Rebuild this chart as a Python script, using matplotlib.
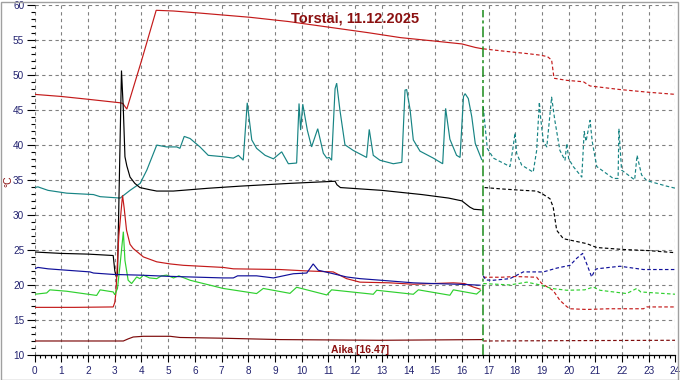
import matplotlib
matplotlib.use("Agg")
import matplotlib.pyplot as plt
from matplotlib.ticker import MultipleLocator
from matplotlib.patches import Rectangle

plt.rcParams['font.family'] = ['Liberation Sans', 'DejaVu Sans']

# ---------------- data ----------------
now_h = 16.78
title_text = "Torstai, 11.12.2025"
time_text = "Aika [16.47]"
y_label = "°C"

# top red (solid today / dashed forecast)
red_top_t = [0, 1, 2, 3.2, 3.3, 3.45, 4.0, 4.55, 5.2, 6.2, 8.07, 9.5, 11.0, 12.5, 13.7, 15.0, 16.0, 16.5, 16.78]
red_top_v = [47.2, 46.9, 46.5, 46.0, 45.9, 45.1, 52.0, 59.2, 59.1, 58.8, 58.2, 57.6, 56.8, 56.0, 55.3, 54.8, 54.4, 53.9, 53.7]
red_top_dt = [16.8, 17.5, 18.5, 18.93, 19.2, 19.36, 19.45, 19.93, 20.55, 20.8, 21.9, 23.0, 24.0]
red_top_dv = [53.7, 53.4, 53.0, 52.8, 52.6, 52.1, 49.5, 49.2, 49.0, 48.4, 47.9, 47.5, 47.2]

# black
black_t = [0, 1.0, 2.0, 2.94, 3.0, 3.06, 3.1, 3.25, 3.32, 3.38, 3.45, 3.57, 3.75, 3.94, 4.3, 4.57,
           5.19, 6.5, 7.69, 9.57, 11.25, 11.32, 11.45, 13.0, 14.5, 15.5, 16.0, 16.3, 16.45, 16.78]
black_v = [24.7, 24.5, 24.4, 24.2, 22.0, 21.1, 21.5, 50.6, 45.0, 38.3, 37.0, 35.4, 34.5, 33.9, 33.6, 33.4,
           33.4, 33.8, 34.1, 34.5, 34.8, 34.3, 33.9, 33.5, 32.9, 32.4, 32.0, 31.1, 30.8, 30.7]
black_dt = [16.85, 17.5, 18.3, 18.8, 18.99, 19.3, 19.42, 19.55, 19.8, 20.67, 21.05, 22.05, 23.0, 24.0]
black_dv = [33.9, 33.7, 33.5, 33.4, 33.06, 32.3, 31.1, 27.8, 26.6, 25.9, 25.34, 25.06, 24.9, 24.6]

# teal
teal_t = [0, 0.12, 0.5, 1.2, 2.2, 2.45, 3.2, 3.57, 3.95, 4.2, 4.57, 4.94, 5.32, 5.44, 5.6, 5.82, 6.19,
          6.5, 7.06, 7.44, 7.63, 7.81, 7.96, 8.13, 8.31, 8.63, 8.94, 9.25, 9.5, 9.81, 9.9, 9.96,
          10.04, 10.21, 10.37, 10.6, 10.81, 10.94, 11.03, 11.12, 11.25, 11.31, 11.43, 11.62, 11.93,
          12.43, 12.53, 12.68, 12.93, 13.43, 13.75, 13.87, 13.93, 14.06, 14.18, 14.43, 14.93, 15.28,
          15.39, 15.55, 15.8, 15.93, 16.06, 16.12, 16.24, 16.37, 16.5, 16.74]
teal_v = [33.9, 34.0, 33.5, 33.1, 32.9, 32.6, 32.4, 33.5, 34.5, 36.4, 39.96, 39.7, 39.7, 39.5, 41.2, 40.9, 39.7,
          38.5, 38.3, 38.1, 38.5, 37.8, 46.0, 40.7, 39.5, 38.5, 38.0, 39.0, 37.3, 37.4, 45.9, 42.1,
          45.8, 42.1, 39.7, 42.3, 38.8, 38.1, 38.2, 37.8, 48.0, 48.8, 45.0, 40.0, 39.2,
          38.2, 42.2, 38.5, 37.8, 37.3, 37.5, 47.8, 47.9, 45.0, 40.7, 39.1, 38.1, 37.3,
          45.2, 40.8, 38.5, 38.2, 46.9, 47.3, 46.6, 44.0, 40.2, 37.9]
teal_dt = [16.8, 16.95, 17.18, 17.8, 17.9, 17.99, 18.05, 18.24, 18.67, 18.8, 18.9, 18.95, 19.05, 19.18,
           19.36, 19.48, 19.67, 19.86, 19.93, 20.0, 20.17, 20.49, 20.58, 20.65, 20.8, 20.88, 21.05,
           21.67, 21.85, 21.88, 21.98, 22.47, 22.56, 22.73, 22.92, 23.67, 24.0]
teal_dv = [45.4, 39.5, 38.1, 36.9, 39.2, 41.7, 38.8, 37.1, 36.1, 39.2, 46.1, 43.8, 40.5, 39.7,
           46.8, 43.5, 39.2, 37.8, 40.2, 38.0, 36.9, 35.4, 41.9, 40.5, 43.5, 40.5, 36.9,
           35.2, 35.2, 42.3, 36.4, 35.0, 38.5, 35.7, 34.9, 34.1, 33.8]

# lower red
red_low_t = [0, 1.5, 2.94, 3.0, 3.04, 3.15, 3.29, 3.35, 3.44, 3.57, 3.69, 4.07, 4.57, 5.07, 5.57, 7.06,
             7.44, 9.19, 10.19, 11.18, 11.68, 12.18, 13.3, 14.18, 14.93, 15.68, 16.1, 16.43, 16.68]
red_low_v = [16.8, 16.8, 16.86, 17.5, 18.8, 27.0, 32.8, 31.0, 27.8, 25.8, 25.2, 24.0, 23.3, 23.0, 22.8, 22.5,
             22.3, 22.2, 22.0, 21.86, 20.9, 20.4, 20.3, 20.1, 20.2, 20.3, 20.2, 19.7, 19.4]
red_low_dt = [16.8, 17.5, 18.0, 18.8, 18.99, 19.42, 19.67, 19.93, 20.05, 20.67, 21.5, 22.8, 22.92, 24.0]
red_low_dv = [21.1, 21.1, 21.2, 21.1, 20.2, 19.2, 17.8, 16.9, 16.6, 16.5, 16.6, 16.6, 16.86, 16.86]

# blue
blue_t = [0, 0.12, 0.5, 1.2, 2.07, 2.2, 2.94, 3.94, 4.94, 5.82, 7.06, 7.44, 7.6, 8.31, 8.94, 9.56, 9.69,
          10.19, 10.43, 10.62, 11.18, 11.68, 12.18, 13.3, 14.18, 14.93, 16.18, 16.68]
blue_v = [22.3, 22.5, 22.3, 22.1, 21.86, 21.7, 21.5, 21.4, 21.24, 21.14, 21.0, 21.0, 21.3, 21.3, 21.0, 21.5, 21.6,
          21.7, 23.0, 22.1, 21.6, 21.14, 20.9, 20.57, 20.3, 20.2, 20.06, 19.96]
blue_dt = [16.8, 16.9, 17.18, 17.8, 18.3, 19.05, 19.55, 20.05, 20.3, 20.52, 20.67, 20.86, 20.98, 21.05,
           21.92, 22.8, 24.0]
blue_dv = [21.3, 20.7, 20.67, 20.9, 21.86, 21.86, 22.4, 22.8, 23.8, 24.5, 23.06, 21.14, 22.1, 22.3,
           22.67, 22.2, 22.2]

# green
green_t = [0, 0.45, 0.57, 1.2, 2.32, 2.45, 2.94, 3.0, 3.1, 3.2, 3.32, 3.38, 3.5, 3.63, 3.82, 3.94, 4.07,
           4.3, 4.57, 4.75, 4.94, 5.2, 5.4, 5.82, 7.06, 8.31, 8.56, 9.56, 9.81, 10.94, 11.12, 12.68,
           12.81, 14.18, 14.37, 15.55, 15.68, 16.55, 16.7]
green_v = [18.67, 18.86, 19.3, 19.1, 18.5, 19.3, 19.0, 18.6, 19.5, 23.0, 27.6, 23.5, 20.67, 20.2, 21.14, 20.9, 21.4,
           21.0, 20.9, 21.3, 21.4, 21.0, 21.3, 20.67, 19.5, 18.77, 19.5, 18.8, 19.67, 18.57, 19.3, 18.67,
           19.24, 18.67, 19.3, 18.53, 19.3, 18.7, 19.2]
green_dt = [16.8, 17.8, 18.43, 18.93, 19.36, 19.93, 20.6, 20.92, 21.17, 22.17, 22.55, 22.7, 24.0]
green_dv = [20.2, 20.0, 20.4, 20.0, 19.5, 19.24, 19.3, 19.7, 19.24, 18.77, 19.5, 19.0, 18.67]

# maroon bottom
maroon_t = [0, 3.32, 3.5, 3.69, 4.07, 5.07, 5.44, 7.0, 9.19, 12.9, 16.78]
maroon_v = [12.0, 12.0, 12.3, 12.57, 12.67, 12.67, 12.5, 12.4, 12.2, 12.1, 12.2]
maroon_dt = [16.8, 20.0, 24.0]
maroon_dv = [12.0, 12.05, 12.1]

# ---------------- styles ----------------
C_RED = "#c41a1a"
C_BLACK = "#000000"
C_TEAL = "#178484"
C_BLUE = "#10109a"
C_GREEN = "#2fd02f"
C_MAROON = "#7d0a0a"
C_TEXT = "#8b1010"
C_TICK = "#232370"
LW = 0.85
DASH = (0, (3, 2))

fig = plt.figure(figsize=(6.8, 3.8), dpi=100)
ax = fig.add_axes([34.7 / 680, 25 / 380, (675.5 - 34.7) / 680, (355 - 4.7) / 380])

series = [
    (red_top_t, red_top_v, red_top_dt, red_top_dv, C_RED),
    (teal_t, teal_v, teal_dt, teal_dv, C_TEAL),
    (black_t, black_v, black_dt, black_dv, C_BLACK),
    (red_low_t, red_low_v, red_low_dt, red_low_dv, C_RED),
    (green_t, green_v, green_dt, green_dv, C_GREEN),
    (blue_t, blue_v, blue_dt, blue_dv, C_BLUE),
    (maroon_t, maroon_v, maroon_dt, maroon_dv, C_MAROON),
]
for t, v, dt, dv, c in series:
    ax.plot(t, v, color=c, lw=LW, solid_joinstyle='miter')
    ax.plot(dt, dv, color=c, lw=LW, linestyle=DASH)

ax.axvline(now_h, ymin=0, ymax=0.985, color="#1a8a1a", lw=1.1, linestyle=(0, (7, 2, 2, 2)))

ax.set_xlim(0, 24)
ax.set_ylim(10, 60)
ax.xaxis.set_major_locator(MultipleLocator(1))
ax.xaxis.set_minor_locator(MultipleLocator(0.2))
ax.yaxis.set_major_locator(MultipleLocator(5))
ax.yaxis.set_minor_locator(MultipleLocator(1))

for s in ['top', 'right', 'left']:
    ax.spines[s].set_visible(False)
ax.spines['bottom'].set_linewidth(0.9)

ax.tick_params(axis='x', which='major', length=5, width=0.8, pad=3, labelsize=7.2, labelcolor=C_TICK)
ax.tick_params(axis='x', which='minor', length=2.5, width=0.8)
ax.tick_params(axis='y', which='major', length=6, width=0.8, pad=1.5, labelsize=7.2, labelcolor=C_TICK)
ax.tick_params(axis='y', which='minor', length=3, width=0.8)

ax.grid(True, which='major', color="#808080", linestyle=(0, (3, 3)), lw=0.8)
ax.set_axisbelow(True)
xgl = ax.get_xgridlines()
xgl[0].set_visible(False)
xgl[-1].set_visible(False)
ygl = ax.get_ygridlines()
ygl[0].set_visible(False)
ygl[-1].set_visible(False)

ax.text(0.5, 0.962, title_text, transform=ax.transAxes, ha='center', va='center',
        color=C_TEXT, fontsize=10.5, fontweight='bold')
ax.text(0.508, 0.015, time_text, transform=ax.transAxes, ha='center', va='center',
        color=C_TEXT, fontsize=7.5, fontweight='bold')
fig.text(8 / 680, 1 - 181 / 380, y_label, rotation=90, ha='center', va='center',
         color=C_TEXT, fontsize=7.5)

fig.patches.append(Rectangle((0.5 / 680, 0.5 / 380), 677.5 / 680, 378 / 380, transform=fig.transFigure,
                             fill=False, edgecolor="#a0a0a0", lw=1.0))

fig.savefig("out.png", dpi=100)
